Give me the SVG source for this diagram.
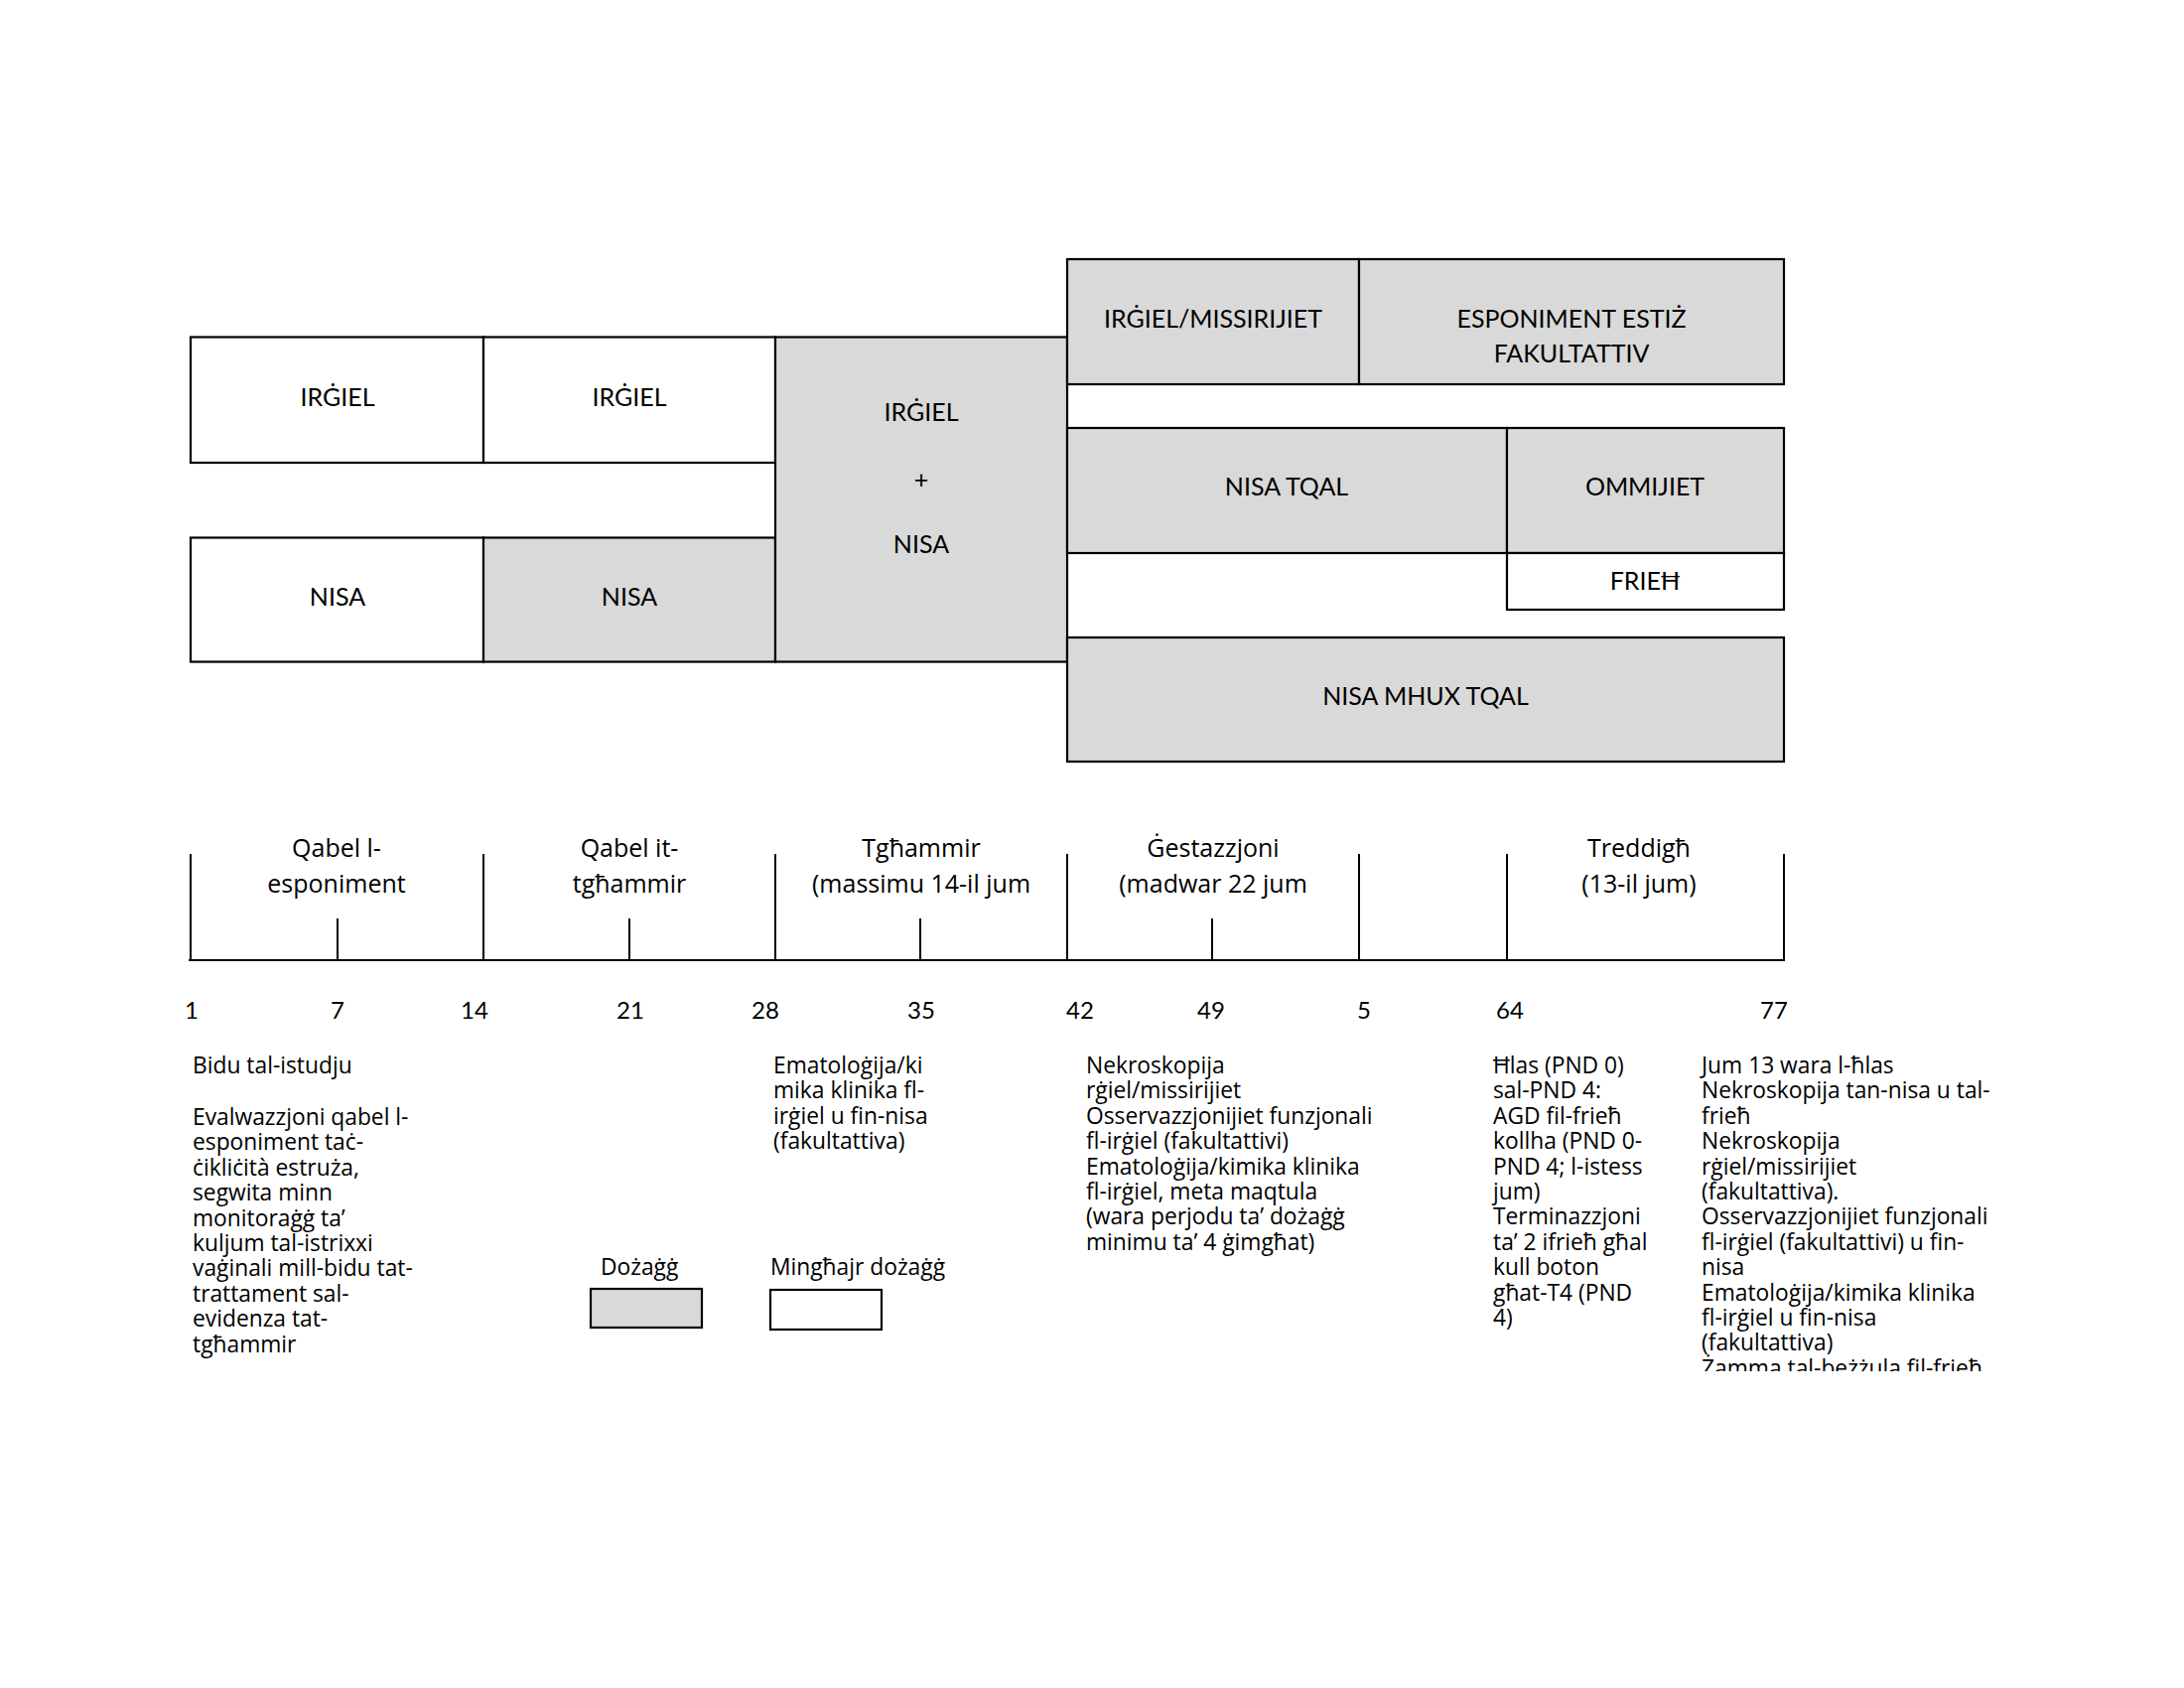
<svg xmlns="http://www.w3.org/2000/svg" width="2200" height="1700" viewBox="0 0 2200 1700">
<style>
.b{stroke:#000;stroke-width:2.2}
.g{fill:#d9d9d9}
.w{fill:#fff}
.t{font-family:Lato,"Liberation Sans",sans-serif;font-size:25px;fill:#000;text-anchor:middle}
.n{font-family:Lato,"Liberation Sans",sans-serif;font-size:24px;fill:#000;text-anchor:middle}
.h{font-family:"Open Sans","Liberation Sans",sans-serif;font-size:25px;fill:#000;text-anchor:middle}
.p{font-family:"Open Sans","Liberation Sans",sans-serif;font-size:22.8px;fill:#000}
.ln{stroke:#000;stroke-width:2;fill:none}
</style>
<defs>
<clipPath id="clip5"><rect x="1700" y="1050" width="400" height="331"/></clipPath>
</defs>
<rect width="2200" height="1700" fill="#fff"/>

<g id="box-irgiel1"><rect class="b w" x="192" y="339.5" width="295" height="126.5"/><text class="t" x="340" y="409">IRĠIEL</text></g>
<g id="box-irgiel2"><rect class="b w" x="487" y="339.5" width="294" height="126.5"/><text class="t" x="634" y="409">IRĠIEL</text></g>
<g id="box-nisa1"><rect class="b w" x="192" y="541.5" width="295" height="125"/><text class="t" x="340" y="610">NISA</text></g>
<g id="box-nisa2"><rect class="b g" x="487" y="541.5" width="294" height="125"/><text class="t" x="634" y="610">NISA</text></g>
<g id="box-irgiel-nisa"><rect class="b g" x="781" y="339.5" width="294" height="327"/><text class="t" x="928" y="424">IRĠIEL</text><text class="t" x="928" y="492">+</text><text class="t" x="928" y="557">NISA</text></g>
<g id="box-irgiel-missirijiet"><rect class="b g" x="1075" y="261" width="294" height="126"/><text class="t" x="1222" y="330">IRĠIEL/MISSIRIJIET</text></g>
<g id="box-esponiment"><rect class="b g" x="1369" y="261" width="428" height="126"/><text class="t" x="1583" y="330">ESPONIMENT ESTIŻ</text><text class="t" x="1583" y="365">FAKULTATTIV</text></g>
<g id="box-nisa-tqal"><rect class="b g" x="1075" y="431" width="443" height="126"/><text class="t" x="1296" y="499">NISA TQAL</text></g>
<g id="box-ommijiet"><rect class="b g" x="1518" y="431" width="279" height="126"/><text class="t" x="1657" y="499">OMMIJIET</text></g>
<g id="box-frieh"><rect class="b w" x="1518" y="557" width="279" height="57"/><text class="t" x="1657" y="594">FRIEĦ</text></g>
<g id="box-nisa-mhux-tqal"><rect class="b g" x="1075" y="642" width="722" height="125"/><text class="t" x="1436" y="710">NISA MHUX TQAL</text></g>

<g id="connectors">
<line class="ln" x1="190" y1="967" x2="1798" y2="967" stroke-width="2.5"/>
<line class="ln" x1="192" y1="860" x2="192" y2="967"/>
<line class="ln" x1="487" y1="860" x2="487" y2="967"/>
<line class="ln" x1="781" y1="860" x2="781" y2="967"/>
<line class="ln" x1="1075" y1="860" x2="1075" y2="967"/>
<line class="ln" x1="1369" y1="860" x2="1369" y2="967"/>
<line class="ln" x1="1518" y1="860" x2="1518" y2="967"/>
<line class="ln" x1="1797" y1="860" x2="1797" y2="967"/>
<line class="ln" x1="340" y1="925" x2="340" y2="967"/>
<line class="ln" x1="634" y1="925" x2="634" y2="967"/>
<line class="ln" x1="927" y1="925" x2="927" y2="967"/>
<line class="ln" x1="1221" y1="925" x2="1221" y2="967"/>
</g>

<g id="timeline-labels">
<text class="h" x="339" y="863">Qabel l-</text><text class="h" x="339" y="899">esponiment</text>
<text class="h" x="634" y="863">Qabel it-</text><text class="h" x="634" y="899">tgħammir</text>
<text class="h" x="928" y="863">Tgħammir</text><text class="h" x="928" y="899">(massimu 14-il jum</text>
<text class="h" x="1222" y="863">Ġestazzjoni</text><text class="h" x="1222" y="899">(madwar 22 jum</text>
<text class="h" x="1651" y="863">Treddigħ</text><text class="h" x="1651" y="899">(13-il jum)</text>
</g>
<g id="numbers">
<text class="n" x="193" y="1026">1</text>
<text class="n" x="340" y="1026">7</text>
<text class="n" x="478" y="1026">14</text>
<text class="n" x="635" y="1026">21</text>
<text class="n" x="771" y="1026">28</text>
<text class="n" x="928" y="1026">35</text>
<text class="n" x="1088" y="1026">42</text>
<text class="n" x="1220" y="1026">49</text>
<text class="n" x="1374" y="1026">5</text>
<text class="n" x="1521" y="1026">64</text>
<text class="n" x="1787" y="1026">77</text>
</g>

<g id="notes1">
<text class="p" x="194" y="1081">Bidu tal-istudju</text>
<text class="p" x="194" y="1133">Evalwazzjoni qabel l-</text>
<text class="p" x="194" y="1158.4">esponiment taċ-</text>
<text class="p" x="194" y="1183.8">ċikliċità estruża,</text>
<text class="p" x="194" y="1209.2">segwita minn</text>
<text class="p" x="194" y="1234.6">monitoraġġ ta’</text>
<text class="p" x="194" y="1260">kuljum tal-istrixxi</text>
<text class="p" x="194" y="1285.4">vaġinali mill-bidu tat-</text>
<text class="p" x="194" y="1310.8">trattament sal-</text>
<text class="p" x="194" y="1336.2">evidenza tat-</text>
<text class="p" x="194" y="1361.6">tgħammir</text>
</g>
<g id="notes2">
<text class="p" x="779" y="1081">Ematoloġija/ki</text>
<text class="p" x="779" y="1106.4">mika klinika fl-</text>
<text class="p" x="779" y="1131.8">irġiel u fin-nisa</text>
<text class="p" x="779" y="1157.2">(fakultattiva)</text>
</g>
<g id="notes3">
<text class="p" x="1094" y="1081">Nekroskopija</text>
<text class="p" x="1094" y="1106.4">rġiel/missirijiet</text>
<text class="p" x="1094" y="1131.8">Osservazzjonijiet funzjonali</text>
<text class="p" x="1094" y="1157.2">fl-irġiel (fakultattivi)</text>
<text class="p" x="1094" y="1182.6">Ematoloġija/kimika klinika</text>
<text class="p" x="1094" y="1208">fl-irġiel, meta maqtula</text>
<text class="p" x="1094" y="1233.4">(wara perjodu ta’ dożaġġ</text>
<text class="p" x="1094" y="1258.8">minimu ta’ 4 ġimgħat)</text>
</g>
<g id="notes4">
<text class="p" x="1504" y="1081">Ħlas (PND 0)</text>
<text class="p" x="1504" y="1106.4">sal-PND 4:</text>
<text class="p" x="1504" y="1131.8">AGD fil-frieħ</text>
<text class="p" x="1504" y="1157.2">kollha (PND 0-</text>
<text class="p" x="1504" y="1182.6">PND 4; l-istess</text>
<text class="p" x="1504" y="1208">jum)</text>
<text class="p" x="1504" y="1233.4">Terminazzjoni</text>
<text class="p" x="1504" y="1258.8">ta’ 2 ifrieħ għal</text>
<text class="p" x="1504" y="1284.2">kull boton</text>
<text class="p" x="1504" y="1309.6">għat-T4 (PND</text>
<text class="p" x="1504" y="1335">4)</text>
</g>
<g id="notes5" clip-path="url(#clip5)">
<text class="p" x="1714" y="1081">Jum 13 wara l-ħlas</text>
<text class="p" x="1714" y="1106.4">Nekroskopija tan-nisa u tal-</text>
<text class="p" x="1714" y="1131.8">frieħ</text>
<text class="p" x="1714" y="1157.2">Nekroskopija</text>
<text class="p" x="1714" y="1182.6">rġiel/missirijiet</text>
<text class="p" x="1714" y="1208">(fakultattiva).</text>
<text class="p" x="1714" y="1233.4">Osservazzjonijiet funzjonali</text>
<text class="p" x="1714" y="1258.8">fl-irġiel (fakultattivi) u fin-</text>
<text class="p" x="1714" y="1284.2">nisa</text>
<text class="p" x="1714" y="1309.6">Ematoloġija/kimika klinika</text>
<text class="p" x="1714" y="1335">fl-irġiel u fin-nisa</text>
<text class="p" x="1714" y="1360.4">(fakultattiva)</text>
<text class="p" x="1714" y="1385.8">Żamma tal-beżżula fil-frieħ</text>
</g>

<g id="legend-dosing"><text class="p" x="605" y="1284">Dożaġġ</text><rect class="b g" x="595" y="1298" width="112" height="39"/></g>
<g id="legend-nodosing"><text class="p" x="776" y="1284">Mingħajr dożaġġ</text><rect class="b w" x="776" y="1299" width="112" height="40"/></g>
</svg>
